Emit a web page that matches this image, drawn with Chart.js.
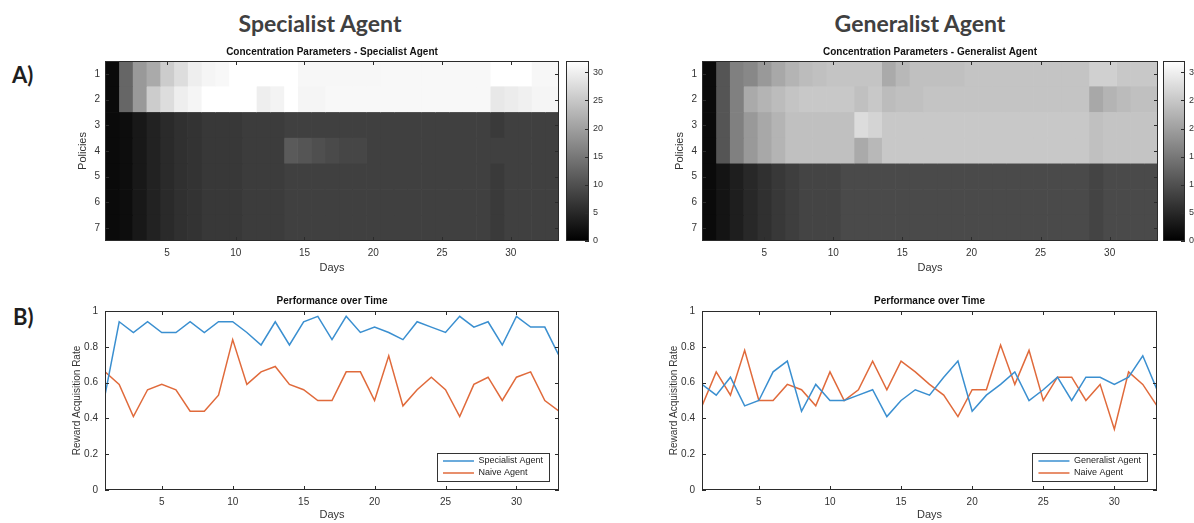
<!DOCTYPE html>
<html>
<head>
<meta charset="utf-8">
<script src="https://cdn.jsdelivr.net/npm/chart.js@4.4.1/dist/chart.umd.min.js"></script>
<style>
  html, body { margin: 0; padding: 0; width: 1194px; height: 523px; overflow: hidden; background: #fff; }
  canvas { position: absolute; }
  .big { position: absolute; font-family: Lato, "Open Sans", sans-serif; font-weight: bold; font-size: 23px; line-height: 23px; color: #404040; text-align: center; width: 240px; }
  .panel { position: absolute; font-family: Lato, "Open Sans", sans-serif; font-weight: bold; font-size: 22px; line-height: 22px; color: #1e1e1e; }
</style>
</head>
<body>
<div class="big" style="left:200px; top:12px;">Specialist Agent</div>
<div class="big" style="left:800px; top:12px;">Generalist Agent</div>
<div class="panel" style="left:12px; top:64px;">A)</div>
<div class="panel" style="left:13px; top:306px;">B)</div>

<canvas id="heatSpec" width="495" height="240" style="left:70px; top:42px;"></canvas>
<canvas id="barSpec" width="60" height="240" style="left:560px; top:42px;"></canvas>
<canvas id="heatGen" width="500" height="240" style="left:667px; top:42px;"></canvas>
<canvas id="barGen" width="60" height="240" style="left:1157px; top:42px;"></canvas>
<canvas id="perfSpec" width="505" height="231" style="left:60px; top:292px;"></canvas>
<canvas id="perfGen" width="505" height="231" style="left:657px; top:292px;"></canvas>

<script>
// categories and ticks
const days = [1, 2, 3, 4, 5, 6, 7, 8, 9, 10, 11, 12, 13, 14, 15, 16, 17, 18, 19, 20, 21, 22, 23, 24, 25, 26, 27, 28, 29, 30, 31, 32, 33];
const policies = ['1', '2', '3', '4', '5', '6', '7'];
const dayTicks = [5, 10, 15, 20, 25, 30];
const rateTicks = [0, 0.2, 0.4, 0.6, 0.8, 1];
const colorbarTicks = [0, 5, 10, 15, 20, 25, 30];
const colorMax = 32;

// concentration parameters - specialist (one array per policy, one value per day)
const specP1 = [1.3, 12.8, 19.2, 21.3, 25.6, 27.7, 29.9, 30.7, 31.1, 32, 32, 32, 32, 32, 31, 31, 31, 31, 31, 31, 31.1, 31.1, 31.1, 31.1, 31.1, 31.1, 31.1, 31.1, 32, 32, 32, 31, 31];
const specP2 = [1.3, 12.8, 19.2, 25.6, 27.7, 29.9, 30.7, 32, 32, 32, 32, 29.9, 30.5, 32, 30.7, 30.7, 31.1, 31.1, 31.1, 31.1, 31.1, 31.1, 31.1, 31.1, 31.1, 31.1, 31.1, 31.1, 29.1, 29.6, 30.1, 30.7, 30.7];
const specP3 = [1.3, 1.6, 3.0, 4.3, 5.3, 6.0, 6.4, 7.0, 7.0, 7.0, 7.5, 7.5, 7.5, 8, 8, 8, 8, 8, 8, 8, 8, 8, 8, 8, 8, 8, 8, 8, 7.3, 8, 8, 8, 8];
const specP4 = [1.3, 1.6, 3.0, 4.3, 5.3, 6.0, 6.4, 7.0, 7.0, 7.0, 7.5, 7.5, 7.5, 11.3, 10.7, 9.9, 9.3, 8.8, 8.8, 8, 8, 8, 8, 8, 8, 8, 8, 8, 8, 8, 8, 8, 8];
const specP5 = [1.3, 1.6, 3.0, 4.3, 5.3, 6.0, 6.4, 7.0, 7.0, 7.0, 7.5, 7.5, 7.5, 8, 8, 8, 8, 8, 8, 8, 8, 8, 8, 8, 8, 8, 8, 8, 7.3, 8, 8, 8, 8];
const specP6 = [1.3, 1.6, 3.0, 4.3, 5.3, 6.0, 6.4, 7.0, 7.0, 7.0, 7.5, 7.5, 7.5, 8, 8, 8, 8, 8, 8, 8, 8, 8, 8, 8, 8, 8, 8, 8, 7.3, 8, 8, 8, 8];
const specP7 = [1.3, 1.6, 3.0, 4.3, 5.3, 6.0, 6.4, 7.0, 7.0, 7.0, 7.5, 7.5, 7.5, 8, 8, 8, 8, 8, 8, 8, 8, 8, 8, 8, 8, 8, 8, 8, 7.3, 8, 8, 8, 8];

// concentration parameters - generalist
const genP1 = [1.3, 10.7, 16.1, 17.1, 19.2, 21.1, 22.6, 23.6, 24.1, 24.6, 24.6, 24.6, 24.6, 21.3, 23.1, 24.1, 24.1, 24.1, 24.1, 24.6, 24.6, 24.6, 24.6, 24.6, 24.6, 24.6, 24.6, 24.6, 26.1, 26.1, 25.1, 25.1, 25.1];
const genP2 = [1.3, 10.7, 16.1, 21.3, 22.6, 23.6, 24.6, 25.1, 25.1, 25.1, 25.1, 24.1, 25.1, 23.6, 24.1, 24.1, 24.6, 24.6, 24.6, 24.6, 24.6, 24.6, 24.6, 24.6, 24.6, 24.6, 24.6, 24.6, 21.1, 22.6, 23.5, 24.1, 24.1];
const genP3 = [1.3, 10.7, 16.1, 19.2, 21.1, 22.6, 24.1, 24.1, 24.1, 24.1, 24.1, 27.6, 26.6, 25.1, 25.1, 25.1, 25.1, 25.1, 25.1, 25.1, 25.1, 25.1, 25.1, 25.1, 25.1, 25.1, 25.1, 25.1, 24.1, 24.6, 24.6, 24.6, 24.6];
const genP4 = [1.3, 10.7, 16.1, 19.2, 21.1, 22.6, 24.1, 24.1, 24.1, 24.1, 24.1, 21.3, 23.1, 25.1, 25.1, 25.1, 25.1, 25.1, 25.1, 25.1, 25.1, 25.1, 25.1, 25.1, 25.1, 25.1, 25.1, 25.1, 24.1, 24.6, 24.6, 24.6, 24.6];
const genP5 = [1.3, 2.5, 3.8, 5.0, 6.0, 7.0, 7.8, 8.5, 8.5, 8.5, 9.3, 9.3, 9.3, 9.3, 9.3, 9.3, 9.3, 9.3, 9.3, 9.3, 9.3, 9.3, 9.3, 9.3, 9.3, 9.3, 9.3, 9.3, 8.5, 9.3, 9.3, 9.3, 9.3];
const genP6 = [1.3, 2.5, 3.8, 5.0, 6.0, 7.0, 7.8, 8.5, 8.5, 8.5, 9.3, 9.3, 9.3, 9.3, 9.3, 9.3, 9.3, 9.3, 9.3, 9.3, 9.3, 9.3, 9.3, 9.3, 9.3, 9.3, 9.3, 9.3, 8.5, 9.3, 9.3, 9.3, 9.3];
const genP7 = [1.3, 2.5, 3.8, 5.0, 6.0, 7.0, 7.8, 8.5, 8.5, 8.5, 9.3, 9.3, 9.3, 9.3, 9.3, 9.3, 9.3, 9.3, 9.3, 9.3, 9.3, 9.3, 9.3, 9.3, 9.3, 9.3, 9.3, 9.3, 8.5, 9.3, 9.3, 9.3, 9.3];

// reward acquisition rate per day
const specialistRate = [0.53, 0.94, 0.88, 0.94, 0.88, 0.88, 0.94, 0.88, 0.94, 0.94, 0.88, 0.81, 0.94, 0.81, 0.94, 0.97, 0.84, 0.97, 0.88, 0.91, 0.88, 0.84, 0.94, 0.91, 0.88, 0.97, 0.91, 0.94, 0.81, 0.97, 0.91, 0.91, 0.75];
const naiveRateA = [0.66, 0.59, 0.41, 0.56, 0.59, 0.56, 0.44, 0.44, 0.53, 0.84, 0.59, 0.66, 0.69, 0.59, 0.56, 0.50, 0.50, 0.66, 0.66, 0.50, 0.75, 0.47, 0.56, 0.63, 0.56, 0.41, 0.59, 0.63, 0.50, 0.63, 0.66, 0.50, 0.44];
const generalistRate = [0.59, 0.53, 0.63, 0.47, 0.50, 0.66, 0.72, 0.44, 0.59, 0.50, 0.50, 0.53, 0.56, 0.41, 0.50, 0.56, 0.53, 0.63, 0.72, 0.44, 0.53, 0.59, 0.66, 0.50, 0.56, 0.63, 0.50, 0.63, 0.63, 0.59, 0.63, 0.75, 0.56];
const naiveRateB = [0.47, 0.66, 0.53, 0.78, 0.50, 0.50, 0.59, 0.56, 0.47, 0.66, 0.50, 0.56, 0.72, 0.56, 0.72, 0.66, 0.59, 0.53, 0.41, 0.56, 0.56, 0.81, 0.59, 0.78, 0.50, 0.63, 0.63, 0.50, 0.59, 0.34, 0.66, 0.59, 0.47];

const blue = '#3a8fd0';
const orange = '#e06a3b';

Chart.defaults.font.family = '"Liberation Sans", Arial, Helvetica, sans-serif';
Chart.defaults.color = '#333';
Chart.defaults.animation = false;

function gray(v) {
    const g = Math.round(Math.min(v / colorMax, 1) * 255);
    return `rgb(${g}, ${g}, ${g})`;
}

// matlab style box with inward tick marks
const matFrame = {
    id: 'matFrame',
    afterDatasetsDraw(chart, args, opts) {
        const { ctx, chartArea: a } = chart;
        const len = 4;
        ctx.save();
        ctx.strokeStyle = '#2b2b2b';
        ctx.lineWidth = 1;
        ctx.beginPath();
        const xs = chart.scales.x, ys = chart.scales.y;
        if (xs && xs.options.display) {
            xs.ticks.forEach((t, i) => {
                const px = Math.round(xs.getPixelForTick(i)) + 0.5;
                ctx.moveTo(px, a.bottom); ctx.lineTo(px, a.bottom - len);
                ctx.moveTo(px, a.top); ctx.lineTo(px, a.top + len);
            });
        }
        if (ys && ys.options.display) {
            ys.ticks.forEach((t, i) => {
                const py = Math.round(ys.getPixelForTick(i)) + 0.5;
                if (!opts.rightOnly) { ctx.moveTo(a.left, py); ctx.lineTo(a.left + len, py); }
                ctx.moveTo(a.right, py); ctx.lineTo(a.right - len, py);
            });
        }
        ctx.stroke();
        ctx.strokeRect(Math.round(a.left) + 0.5, Math.round(a.top) + 0.5, Math.round(a.width) - 1, Math.round(a.height) - 1);
        ctx.restore();
    }
};

// put the legend box in the lower right corner of the axes
const legendCorner = {
    id: 'legendCorner',
    afterLayout(chart) {
        const lg = chart.legend, a = chart.chartArea;
        const w = lg.columnSizes[0].width;
        lg.left = a.right - 10 - (w + 12) + 3;
        lg.right = lg.left + lg.width;
        lg.bottom = a.bottom - 9.5;
    },
    afterDraw(chart) {
        const lg = chart.legend, ctx = chart.ctx;
        const h = lg.columnSizes[0].height;
        const x0 = lg.left - 3, x1 = lg.left + 9 + lg.columnSizes[0].width;
        const y0 = lg.bottom - h - 4, y1 = lg.bottom;
        ctx.save();
        ctx.strokeStyle = '#333';
        ctx.lineWidth = 1;
        ctx.strokeRect(Math.round(x0) + 0.5, Math.round(y0) + 0.5, Math.round(x1 - x0), Math.round(y1 - y0));
        ctx.restore();
    }
};

function heatChart(id, title, rows, padRight) {
    const datasets = days.map((d, j) => ({
        data: policies.map(() => [d - 0.5, d + 0.5]),
        backgroundColor: rows.map(r => gray(r[j])),
        borderWidth: 0,
        barPercentage: 1,
        categoryPercentage: 1,
        grouped: false
    }));
    return new Chart(document.getElementById(id), {
        type: 'bar',
        data: { labels: policies, datasets: datasets },
        options: {
            indexAxis: 'y',
            responsive: false,
            events: [],
            layout: { padding: { left: 0, right: padRight, top: 0, bottom: 0 } },
            plugins: {
                legend: { display: false },
                tooltip: { enabled: false },
                title: { display: true, text: title, fullSize: false, color: '#111', font: { size: 10, weight: 'bold' }, padding: { top: 4, bottom: 3 } },
                matFrame: {}
            },
            scales: {
                x: {
                    type: 'linear', min: 0.5, max: 33.5,
                    afterBuildTicks: s => { s.ticks = dayTicks.map(v => ({ value: v })); },
                    afterFit: s => { s.height = 41; },
                    grid: { display: false, drawTicks: false }, border: { display: false },
                    ticks: { padding: 6, font: { size: 10 } },
                    title: { display: true, text: 'Days', font: { size: 11 }, padding: { top: 0, bottom: 7 } }
                },
                y: {
                    afterFit: s => { s.width = 35; },
                    grid: { display: false, drawTicks: false }, border: { display: false },
                    ticks: { padding: 5, font: { size: 10 } },
                    title: { display: true, text: 'Policies', font: { size: 11 }, padding: { top: 6, bottom: 0 } }
                }
            }
        },
        plugins: [matFrame]
    });
}

function colorbar(id, axisWidth) {
    return new Chart(document.getElementById(id), {
        type: 'bar',
        data: {
            labels: [''],
            datasets: [{
                data: [[0, colorMax]],
                barPercentage: 1,
                categoryPercentage: 1,
                borderWidth: 0,
                backgroundColor: c => {
                    const ch = c.chart, a = ch.chartArea;
                    if (!a || !isFinite(a.top) || !isFinite(a.bottom) || a.bottom <= a.top) return '#777';
                    const g = ch.ctx.createLinearGradient(0, a.bottom, 0, a.top);
                    g.addColorStop(0, '#000');
                    g.addColorStop(1, '#fff');
                    return g;
                }
            }]
        },
        options: {
            responsive: false,
            events: [],
            layout: { padding: { left: 6, right: 0, top: 19, bottom: 41 } },
            plugins: { legend: { display: false }, tooltip: { enabled: false }, matFrame: { rightOnly: true } },
            scales: {
                x: { display: false },
                y: {
                    position: 'right', min: 0, max: colorMax,
                    afterBuildTicks: s => { s.ticks = colorbarTicks.map(v => ({ value: v })); },
                    afterFit: s => { s.width = axisWidth; },
                    grid: { display: false, drawTicks: false }, border: { display: false },
                    ticks: { padding: 4, font: { size: 9 } }
                }
            }
        },
        plugins: [matFrame]
    });
}

function perfChart(id, agentName, agentRate, naiveRate, padRight) {
    return new Chart(document.getElementById(id), {
        type: 'line',
        data: {
            datasets: [
                { label: agentName, data: days.map((d, i) => ({ x: d, y: agentRate[i] })), borderColor: blue, backgroundColor: blue, borderWidth: 1.5, pointRadius: 0, tension: 0 },
                { label: 'Naive Agent', data: days.map((d, i) => ({ x: d, y: naiveRate[i] })), borderColor: orange, backgroundColor: orange, borderWidth: 1.5, pointRadius: 0, tension: 0 }
            ]
        },
        options: {
            responsive: false,
            events: [],
            layout: { padding: { left: 0, right: padRight, top: 0, bottom: 0 } },
            plugins: {
                tooltip: { enabled: false },
                title: { display: true, text: 'Performance over Time', fullSize: false, color: '#111', font: { size: 10, weight: 'bold' }, padding: { top: 3, bottom: 4 } },
                legend: {
                    position: 'chartArea', align: 'end',
                    labels: { usePointStyle: true, pointStyle: 'line', pointStyleWidth: 31, padding: 3, color: '#222', font: { size: 9 } }
                },
                matFrame: {}
            },
            scales: {
                x: {
                    type: 'linear', min: 1, max: 33,
                    afterBuildTicks: s => { s.ticks = dayTicks.map(v => ({ value: v })); },
                    afterFit: s => { s.height = 33; },
                    grid: { display: false, drawTicks: false }, border: { display: false },
                    ticks: { padding: 6, font: { size: 10 } },
                    title: { display: true, text: 'Days', font: { size: 11 }, padding: { top: 0, bottom: 1 } }
                },
                y: {
                    min: 0, max: 1,
                    afterBuildTicks: s => { s.ticks = rateTicks.map(v => ({ value: v })); },
                    afterFit: s => { s.width = 45; },
                    grid: { display: false, drawTicks: false }, border: { display: false },
                    ticks: { padding: 7, font: { size: 10 }, callback: v => String(v) },
                    title: { display: true, text: 'Reward Acquisition Rate', font: { size: 10 }, padding: { top: 11, bottom: 0 } }
                }
            }
        },
        plugins: [matFrame, legendCorner]
    });
}

heatChart('heatSpec', 'Concentration Parameters - Specialist Agent', [specP1, specP2, specP3, specP4, specP5, specP6, specP7], 6);
colorbar('barSpec', 31);
heatChart('heatGen', 'Concentration Parameters - Generalist Agent', [genP1, genP2, genP3, genP4, genP5, genP6, genP7], 9);
colorbar('barGen', 32);
perfChart('perfSpec', 'Specialist Agent', specialistRate, naiveRateA, 6);
perfChart('perfGen', 'Generalist Agent', generalistRate, naiveRateB, 5);
</script>
</body>
</html>
